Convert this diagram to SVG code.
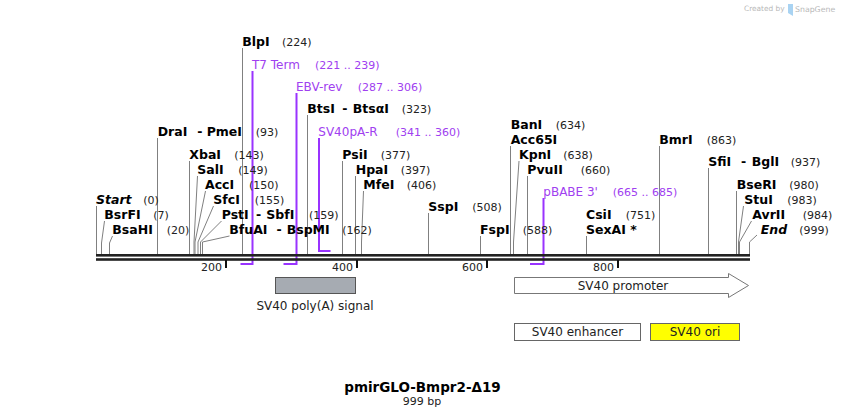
<svg xmlns="http://www.w3.org/2000/svg" width="846" height="417" viewBox="0 0 846 417">
<defs>
<style>
.e{font-family:"DejaVu Sans",Verdana,sans-serif;font-weight:bold;font-size:12.5px;fill:#000}
.i{font-style:italic}
.num{font-family:"DejaVu Sans",Verdana,sans-serif;font-size:11px;fill:#222}
.pt{font-family:"DejaVu Sans",Verdana,sans-serif;font-size:12px;fill:#a040f0}
.pn{font-family:"DejaVu Sans",Verdana,sans-serif;font-size:11px;fill:#a040f0}
.ft{font-family:"DejaVu Sans",Verdana,sans-serif;font-size:12px;fill:#222}
.tk{font-family:"DejaVu Sans",Verdana,sans-serif;font-size:11px;fill:#222;text-anchor:end}
.cl{stroke:#808080;stroke-width:1;fill:none}
.pl{stroke:#9933ff;stroke-width:2;fill:none}
.wm{font-family:"DejaVu Sans",Verdana,sans-serif;fill:#b8b8b8}
</style>
</defs>
<rect width="846" height="417" fill="#fff"/>

<g id="watermark">
<text class="wm" x="744" y="11" font-size="7.4px">Created by</text>
<path d="M788,4 L793,4 L793,16 L788,13 Z" fill="#a9d3f2"/>
<text class="wm" x="795" y="12" font-size="7.8px">SnapGene</text>
</g>

<g id="connectors">
<path class="cl" d="M96.5,206V254"/>
<path class="cl" d="M104.5,221L101.5,243V254"/>
<path class="cl" d="M112.5,236L109.5,243V254"/>
<path class="cl" d="M157.5,138V254"/>
<path class="cl" d="M189.5,161V254"/>
<path class="cl" d="M197.5,176L194,242V254"/>
<path class="cl" d="M205.5,191L195,242V254"/>
<path class="cl" d="M213.5,206L198,242V254"/>
<path class="cl" d="M221.5,221L200.5,242V254"/>
<path class="cl" d="M229.5,236L202.5,242V254"/>
<path class="cl" d="M242.5,48V254"/>
<path class="cl" d="M307.5,115V254"/>
<path class="cl" d="M342.5,161V254"/>
<path class="cl" d="M355.5,176V254"/>
<path class="cl" d="M363.5,191L361.5,242V254"/>
<path class="cl" d="M428.5,213V254"/>
<path class="cl" d="M480.5,236V254"/>
<path class="cl" d="M510.5,146V254"/>
<path class="cl" d="M519,161L513.5,242V254"/>
<path class="cl" d="M527.5,176V254"/>
<path class="cl" d="M586.5,236V254"/>
<path class="cl" d="M659.5,146V254"/>
<path class="cl" d="M708.5,168V254"/>
<path class="cl" d="M736.5,191V254"/>
<path class="cl" d="M743.5,206L738.5,242V254"/>
<path class="cl" d="M751.5,221L739.5,242V254"/>
<path class="cl" d="M757,235L749.5,242V254"/>
<path class="pl" d="M252.5,71V264H240.5"/>
<path class="pl" d="M296.5,93V264H283.5"/>
<path class="pl" d="M319,138V251H330.5"/>
<path class="pl" d="M543.5,198V264H530"/>
</g>

<g id="axis">
<rect x="96" y="254" width="654" height="2.6" fill="#222"/>
<rect x="96" y="258.2" width="654" height="2.6" fill="#222"/>
<rect x="225" y="260" width="2" height="8" fill="#111"/>
<rect x="356" y="260" width="2" height="8" fill="#111"/>
<rect x="486" y="260" width="2" height="8" fill="#111"/>
<rect x="617" y="260" width="2" height="8" fill="#111"/>
<text class="tk" x="222" y="271">200</text>
<text class="tk" x="353" y="271">400</text>
<text class="tk" x="483" y="271">600</text>
<text class="tk" x="614" y="271">800</text>
</g>

<g id="Start"><text class="e i" x="96" y="204">Start</text><text class="num" x="143.3" y="204">(0)</text></g>
<g id="BsrFI"><text class="e" x="104.3" y="219">BsrFI</text><text class="num" x="153.3" y="219">(7)</text></g>
<g id="BsaHI"><text class="e" x="112.3" y="234">BsaHI</text><text class="num" x="166.7" y="234">(20)</text></g>
<g id="DraI-PmeI"><text class="e" x="157.7" y="136">DraI</text><text class="e" x="197.3" y="136">-</text><text class="e" x="206.7" y="136">PmeI</text><text class="num" x="255.7" y="136">(93)</text></g>
<g id="XbaI"><text class="e" x="189.3" y="159">XbaI</text><text class="num" x="234.3" y="159">(143)</text></g>
<g id="SalI"><text class="e" x="197.3" y="174">SalI</text><text class="num" x="238.3" y="174">(149)</text></g>
<g id="AccI"><text class="e" x="205" y="189">AccI</text><text class="num" x="249" y="189">(150)</text></g>
<g id="SfcI"><text class="e" x="213.3" y="204">SfcI</text><text class="num" x="254.7" y="204">(155)</text></g>
<g id="PstI-SbfI"><text class="e" x="221.7" y="219">PstI</text><text class="e" x="256" y="219">-</text><text class="e" x="266.3" y="219">SbfI</text><text class="num" x="309" y="219">(159)</text></g>
<g id="BfuAI-BspMI"><text class="e" x="229.3" y="234">BfuAI</text><text class="e" x="276.5" y="234">-</text><text class="e" x="286.7" y="234">BspMI</text><text class="num" x="342.3" y="234">(162)</text></g>
<g id="BlpI"><text class="e" x="242.3" y="46">BlpI</text><text class="num" x="282" y="46">(224)</text></g>
<g id="T7Term"><text class="pt" x="252" y="69">T7 Term</text><text class="pn" x="315" y="69">(221 .. 239)</text></g>
<g id="EBV-rev"><text class="pt" x="296" y="91">EBV-rev</text><text class="pn" x="357.7" y="91">(287 .. 306)</text></g>
<g id="BtsI-BtsaI"><text class="e" x="307.3" y="113">BtsI</text><text class="e" x="342.3" y="113">-</text><text class="e" x="352.7" y="113">BtsαI</text><text class="num" x="401.7" y="113">(323)</text></g>
<g id="SV40pA-R"><text class="pt" x="318.3" y="136">SV40pA-R</text><text class="pn" x="395.7" y="136">(341 .. 360)</text></g>
<g id="PsiI"><text class="e" x="342.3" y="159">PsiI</text><text class="num" x="380.7" y="159">(377)</text></g>
<g id="HpaI"><text class="e" x="355.7" y="174">HpaI</text><text class="num" x="400.7" y="174">(397)</text></g>
<g id="MfeI"><text class="e" x="363.3" y="189">MfeI</text><text class="num" x="406.7" y="189">(406)</text></g>
<g id="SspI"><text class="e" x="428.3" y="211">SspI</text><text class="num" x="472.3" y="211">(508)</text></g>
<g id="FspI"><text class="e" x="480" y="234">FspI</text><text class="num" x="522.7" y="234">(588)</text></g>
<g id="BanI-Acc65I"><text class="e" x="510.7" y="128.5">BanI</text><text class="num" x="555.7" y="128.5">(634)</text><text class="e" x="510.7" y="143.5">Acc65I</text></g>
<g id="KpnI"><text class="e" x="519" y="159">KpnI</text><text class="num" x="563.3" y="159">(638)</text></g>
<g id="PvuII"><text class="e" x="527.3" y="174">PvuII</text><text class="num" x="580.7" y="174">(660)</text></g>
<g id="pBABE3"><text class="pt" x="543.3" y="196">pBABE 3'</text><text class="pn" x="612.7" y="196">(665 .. 685)</text></g>
<g id="CsiI-SexAI"><text class="e" x="586" y="218.5">CsiI</text><text class="num" x="625.7" y="218.5">(751)</text><text class="e" x="586" y="233.5">SexAI *</text></g>
<g id="BmrI"><text class="e" x="659.3" y="143.5">BmrI</text><text class="num" x="706.7" y="143.5">(863)</text></g>
<g id="SfiI-BglI"><text class="e" x="708.3" y="166">SfiI</text><text class="e" x="741" y="166">-</text><text class="e" x="751.7" y="166">BglI</text><text class="num" x="790.7" y="166">(937)</text></g>
<g id="BseRI"><text class="e" x="736.7" y="188.5">BseRI</text><text class="num" x="789.3" y="188.5">(980)</text></g>
<g id="StuI"><text class="e" x="744.3" y="203.5">StuI</text><text class="num" x="787.3" y="203.5">(983)</text></g>
<g id="AvrII"><text class="e" x="752.3" y="218.5">AvrII</text><text class="num" x="802.7" y="218.5">(984)</text></g>
<g id="End"><text class="e i" x="760.7" y="233.5">End</text><text class="num" x="799.3" y="233.5">(999)</text></g>

<g id="SV40polyA">
<rect x="275.5" y="277.5" width="80" height="16" fill="#a6abb2" stroke="#555"/>
<text class="ft" x="315" y="310" text-anchor="middle">SV40 poly(A) signal</text>
</g>
<g id="SV40promoter">
<polygon points="514.5,277.5 728.5,277.5 728.5,273.5 748.5,285.5 728.5,297.5 728.5,293.5 514.5,293.5" fill="#fff" stroke="#777"/>
<text class="ft" x="623" y="289.5" text-anchor="middle">SV40 promoter</text>
</g>
<g id="SV40enhancer">
<rect x="514.5" y="323.5" width="126" height="17" fill="#fff" stroke="#666"/>
<text class="ft" x="577.5" y="336" text-anchor="middle">SV40 enhancer</text>
</g>
<g id="SV40ori">
<rect x="650.5" y="323.5" width="89" height="17" fill="#ffff00" stroke="#666"/>
<text class="ft" x="695" y="336" text-anchor="middle">SV40 ori</text>
</g>

<g id="title">
<text x="422.5" y="391.5" text-anchor="middle" font-family="DejaVu Sans, Verdana, sans-serif" font-weight="bold" font-size="13.5px" fill="#000">pmirGLO-Bmpr2-Δ19</text>
<text x="422" y="404.5" text-anchor="middle" font-family="DejaVu Sans, Verdana, sans-serif" font-size="11px" fill="#222">999 bp</text>
</g>
</svg>
